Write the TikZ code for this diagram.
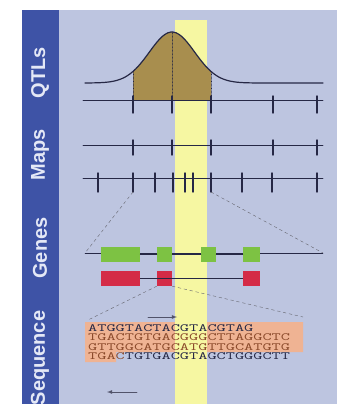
\documentclass[tikz,border=0pt]{standalone}
\usepackage{fontspec}
\newfontfamily\barfont{Liberation Sans}
\newcommand\seqtext[1]{\scalebox{1.62}[1]{\ttfamily\fontsize{11}{11}\selectfont #1}}
\definecolor{PanelBlue}{HTML}{BDC5E0}
\definecolor{BarBlue}{HTML}{3E53A6}
\definecolor{BarText}{HTML}{E4E8F6}
\definecolor{StripeYellow}{HTML}{F6F7A2}
\definecolor{QtlOlive}{HTML}{A88E4E}
\definecolor{ExonGreen}{HTML}{7DC243}
\definecolor{ExonRed}{HTML}{D42B47}
\definecolor{SeqSalmon}{HTML}{EFB393}
\definecolor{SeqBrown}{HTML}{8B4A2B}
\definecolor{LineNavy}{HTML}{262845}
\tikzset{
  exon/.style={inner sep=0pt,minimum height=15pt},
  barlabel/.style={rotate=90,text=BarText,font=\barfont\bfseries\fontsize{20}{20}\selectfont},
  seqline/.style={anchor=west,inner sep=0pt,text=LineNavy}
}

\begin{document}
\begin{tikzpicture}[x=1pt,y=-1pt,line cap=round,line join=round]
  \useasboundingbox (0,0) rectangle (337,404);
  \fill[BarBlue] (22,10) rectangle (59,404);\fill[PanelBlue] (59,10) rectangle (337,404);
  \node[barlabel] (qtls) at (40,73) {QTLs};\node[barlabel] (maps) at (40,155) {Maps};
  \node[barlabel] (genes) at (40,248) {Genes};\node[barlabel] (sequence) at (40,358) {Sequence};
  \fill[SeqSalmon] (85,322) rectangle (303,352) (85,352) rectangle (116,362);
  \fill[StripeYellow] (175,20) rectangle (207,404);
  \begin{scope}[LineNavy]
    \fill[QtlOlive] plot[domain=133:211,samples=40,smooth] (\x,{83-51*exp(-((\x-172)/32)*((\x-172)/32))}) -- (211,100) -- (133,100) -- cycle;
    \draw[line width=1.2pt] plot[domain=85:323,samples=90,smooth] (\x,{83-51*exp(-((\x-172)/32)*((\x-172)/32))});
    \draw[densely dotted] (133,71.5)--(133,100) (172,32)--(172,100) (211,71.5)--(211,100);
    \draw[semithick] (83,100)--(323,100);\draw[line width=1.4pt] (133,96)--(133,113) (172,96)--(172,113) (211,96)--(211,113) (273,96)--(273,113) (317,96)--(317,113);
    \draw[semithick] (83,145)--(323,145);\draw[line width=1.4pt] (133,140)--(133,155) (172,140)--(172,155) (211,140)--(211,155) (273,140)--(273,155) (317,140)--(317,155);
    \draw[semithick] (83,178)--(323,178);\draw[line width=1.4pt] (98,173)--(98,192) (133,173)--(133,192) (155,173)--(155,192) (173,173)--(173,192) (185,173)--(185,192)
      (193,173)--(193,192) (211,173)--(211,192) (242,173)--(242,192) (272,173)--(272,192) (317,173)--(317,192);
  \end{scope}
  \coordinate (mL) at (133,192);\coordinate (mR) at (211,192);\coordinate (gL) at (85,253);\coordinate (gR) at (323,253);
  \draw[gray!70!LineNavy,dashed] (mL)--(gL) (mR)--(gR);
  \draw[LineNavy] (gL)--(gR);
  \node[exon,fill=ExonGreen,minimum width=39pt] (g1) at (120.5,254.5) {};\node[exon,fill=ExonGreen,minimum width=15pt] (g2) at (164.5,254.5) {};
  \node[exon,fill=ExonGreen,minimum width=15pt] (g3) at (208.5,254.5) {};\node[exon,fill=ExonGreen,minimum width=17pt] (g4) at (251.5,254.5) {};
  \draw[LineNavy,thick] (g1)--(g2) (g2)--(g3) (g3)--(g4);
  \node[exon,fill=ExonRed,minimum width=39pt] (r1) at (120.5,278.5) {};\node[exon,fill=ExonRed,minimum width=15pt] (r2) at (164.5,278.5) {};
  \node[exon,fill=ExonRed,minimum width=17pt] (r3) at (251.5,278.5) {};
  \draw[LineNavy] (r1)--(r3);
  \coordinate (sL) at (88,320);\coordinate (sR) at (303,317);
  \draw[gray!70!LineNavy,dashed] (r2.south west)--(sL) (r2.south east)--(sR);
  \node[seqline] (s1) at (88,328) {\seqtext{ATGGTACTACGTACGTAG}};
  \node[seqline,text=SeqBrown] (s2) at (88,337.5) {\seqtext{TGACTGTGACGGGCTTAGGCTC}};
  \node[seqline,text=SeqBrown] (s3) at (88,347) {\seqtext{GTTGGCATGCATGTTGCATGTG}};
  \node[seqline] (s4) at (88,356.5) {\seqtext{\color{SeqBrown}TGAC\color{LineNavy}TGTGACGTAGCTGGGCTT}};
  \coordinate (fwA) at (148,317);\coordinate (fwB) at (177,317);\coordinate (rvA) at (137,392);\coordinate (rvB) at (107,392);
  \draw[LineNavy!80,thick,-latex] (fwA)--(fwB);\draw[LineNavy!80,thick,-latex] (rvA)--(rvB);
\end{tikzpicture}
\end{document}
